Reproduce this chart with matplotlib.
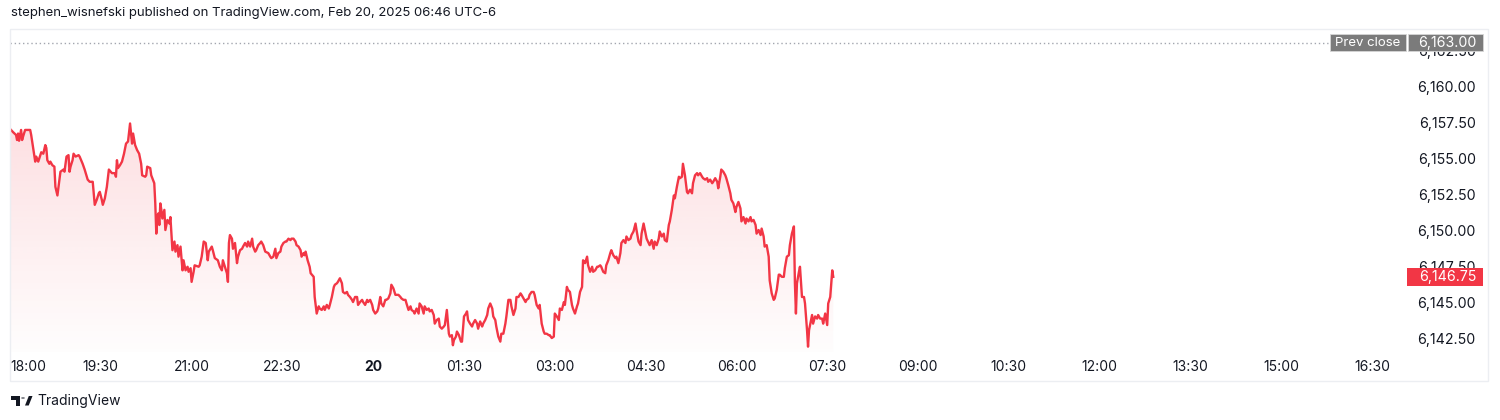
import numpy as np
import matplotlib
matplotlib.use("Agg")
import matplotlib.pyplot as plt
from matplotlib.colors import to_rgb
from matplotlib.patches import Rectangle, Polygon, Circle

# minutes after 18:00 (session open) and last price
minutes = [
    1, 3, 6, 7, 8, 9, 11, 12, 13, 15,
    20, 21, 23, 25, 26, 28, 30, 31, 33, 35,
    36, 37, 39, 40, 42, 44, 45, 47, 49, 50,
    53, 54, 56, 58, 59, 60, 62, 63, 65, 68,
    69, 72, 74, 77, 79, 82, 84, 86, 88, 89,
    91, 92, 94, 96, 98, 101, 104, 105, 106, 107,
    109, 111, 113, 115, 117, 119, 121, 122, 124, 126,
    128, 130, 131, 134, 135, 136, 139, 140, 143, 144,
    145, 146, 147, 148, 149, 150, 151, 153, 154, 156,
    158, 159, 160, 161, 163, 164, 166, 167, 169, 171,
    172, 174, 176, 177, 179, 180, 182, 183, 187, 188,
    190, 192, 194, 196, 197, 200, 201, 203, 206, 208,
    210, 211, 213, 215, 216, 217, 218, 220, 221, 223,
    225, 226, 228, 230, 231, 233, 235, 236, 238, 240,
    241, 243, 244, 246, 248, 249, 251, 253, 256, 258,
    259, 261, 263, 264, 266, 268, 269, 271, 273, 274,
    276, 278, 279, 281, 283, 284, 286, 288, 289, 291,
    292, 293, 295, 297, 298, 301, 302, 304, 306, 307,
    309, 311, 312, 314, 316, 317, 319, 321, 322, 324,
    325, 327, 329, 330, 332, 334, 335, 337, 339, 340,
    342, 344, 345, 347, 349, 350, 352, 354, 355, 357,
    359, 360, 362, 364, 365, 367, 368, 370, 372, 373,
    375, 377, 378, 380, 382, 383, 385, 387, 388, 390,
    392, 393, 395, 397, 398, 400, 401, 403, 405, 406,
    408, 410, 411, 413, 415, 416, 418, 420, 421, 423,
    425, 426, 428, 430, 431, 433, 435, 436, 438, 439,
    440, 442, 443, 445, 447, 448, 450, 452, 453, 454,
    456, 458, 459, 461, 463, 464, 466, 468, 469, 471,
    473, 474, 476, 478, 479, 481, 482, 484, 486, 487,
    489, 491, 492, 494, 496, 497, 499, 501, 502, 504,
    506, 507, 509, 511, 512, 514, 515, 517, 519, 520,
    522, 524, 525, 527, 529, 530, 532, 534, 535, 537,
    539, 540, 542, 544, 545, 547, 549, 550, 552, 553,
    555, 557, 558, 560, 562, 563, 565, 567, 568, 570,
    572, 573, 575, 577, 578, 580, 582, 583, 585, 586,
    588, 590, 591, 593, 595, 596, 598, 600, 601, 603,
    605, 606, 608, 610, 611, 613, 615, 616, 618, 620,
    621, 623, 625, 626, 628, 629, 631, 633, 634, 636,
    638, 639, 641, 643, 644, 646, 648, 649, 651, 653,
    654, 656, 658, 659, 661, 663, 664, 666, 667, 669,
    671, 672, 674, 676, 677, 679, 681, 682, 684, 686,
    687, 689, 691, 692, 694, 696, 697, 699, 701, 702,
    704, 705, 707, 709, 710, 712, 714, 715, 717, 719,
    720, 722, 724, 725, 727, 729, 730, 732, 734, 735,
    737, 739, 740, 742, 744, 745, 747, 748, 750, 752,
    753, 755, 757, 758, 760, 762, 763, 765, 767, 768,
    770, 772, 773, 775, 777, 778, 779, 780, 782, 783,
    785, 787, 788, 790, 791, 792, 794, 795, 796, 798,
    800, 801, 803, 805, 806, 808, 810, 811, 813, 815, 816,
]
prices = [
    6156.95, 6156.8, 6156.6, 6156.25, 6156.7, 6156.2, 6156.95, 6156.25, 6156.5, 6156.95,
    6156.95, 6156.6, 6155.7, 6154.75, 6155.1, 6154.75, 6155.2, 6155.4, 6155.3, 6155.9,
    6155.7, 6154.85, 6154.6, 6154.75, 6154.5, 6154.4, 6153.0, 6152.4, 6153.5, 6154.05,
    6154.2, 6154.05, 6155.1, 6155.2, 6154.05, 6154.4, 6154.85, 6155.3, 6155.1, 6155.2,
    6155.1, 6154.6, 6154.2, 6153.5, 6153.35, 6153.35, 6151.75, 6152.1, 6152.55, 6152.65,
    6152.1, 6151.75, 6152.2, 6153.0, 6154.2, 6153.95, 6153.95, 6153.7, 6154.85, 6154.3,
    6154.5, 6154.75, 6155.3, 6156.0, 6156.15, 6157.4, 6156.0, 6156.7, 6155.9, 6155.55,
    6155.3, 6154.6, 6153.8, 6153.7, 6153.8, 6154.4, 6154.3, 6153.8, 6153.25, 6151.85,
    6149.75, 6150.9, 6151.15, 6150.35, 6151.85, 6151.4, 6150.8, 6151.4, 6150.0, 6150.7,
    6150.45, 6150.9, 6149.75, 6148.6, 6149.2, 6148.5, 6148.95, 6148.15, 6148.85, 6147.2,
    6147.9, 6147.2, 6147.45, 6147.1, 6147.35, 6146.4, 6147.1, 6147.55, 6147.45, 6147.55,
    6148.15, 6149.2, 6149.1, 6147.9, 6148.5, 6148.85, 6148.6, 6148.05, 6147.9, 6147.45,
    6147.2, 6147.9, 6147.45, 6147.0, 6146.4, 6149.1, 6149.65, 6149.4, 6148.7, 6149.1,
    6147.7, 6148.15, 6148.6, 6148.7, 6148.85, 6149.1, 6148.85, 6149.2, 6148.85, 6149.4,
    6148.85, 6148.5, 6148.6, 6148.95, 6149.1, 6149.2, 6148.95, 6148.5, 6148.4, 6148.15,
    6148.05, 6148.15, 6148.7, 6148.05, 6148.4, 6148.5, 6148.85, 6149.1, 6149.2, 6149.2,
    6149.4, 6149.3, 6149.4, 6149.4, 6149.2, 6148.95, 6148.85, 6148.6, 6148.15, 6148.4,
    6148.25, 6148.5, 6147.9, 6147.45, 6147.0, 6146.75, 6145.35, 6144.2, 6144.7, 6144.55,
    6144.45, 6144.7, 6144.45, 6144.8, 6144.55, 6144.8, 6145.35, 6146.05, 6146.2, 6146.3,
    6146.4, 6146.65, 6146.3, 6145.7, 6145.6, 6145.7, 6145.5, 6145.35, 6145.15, 6145.0,
    6145.35, 6145.35, 6144.8, 6145.0, 6145.15, 6145.0, 6144.8, 6145.15, 6145.0, 6145.15,
    6144.8, 6144.45, 6144.2, 6144.35, 6144.55, 6145.35, 6144.9, 6144.7, 6145.15, 6145.15,
    6145.25, 6145.6, 6146.2, 6145.95, 6145.5, 6145.5, 6145.5, 6145.35, 6145.25, 6145.15,
    6145.15, 6144.9, 6144.45, 6144.7, 6144.45, 6144.35, 6144.2, 6144.55, 6144.2, 6144.9,
    6144.7, 6144.2, 6144.7, 6144.45, 6144.55, 6144.35, 6144.45, 6144.1, 6143.5, 6143.75,
    6143.85, 6143.3, 6143.15, 6143.3, 6143.4, 6144.45, 6142.8, 6142.6, 6142.7, 6142.0,
    6142.35, 6142.6, 6142.95, 6142.7, 6142.25, 6142.25, 6144.0, 6144.2, 6144.35, 6143.75,
    6143.5, 6143.3, 6143.5, 6143.75, 6143.5, 6143.15, 6143.65, 6143.3, 6143.5, 6143.75,
    6144.1, 6144.55, 6144.9, 6144.55, 6144.0, 6143.75, 6143.3, 6142.6, 6142.25, 6142.8,
    6142.8, 6143.5, 6144.0, 6145.15, 6145.15, 6144.7, 6144.1, 6144.55, 6145.35, 6145.35,
    6145.6, 6145.5, 6145.25, 6145.0, 6145.15, 6145.25, 6145.5, 6145.7, 6145.7, 6145.5,
    6144.8, 6144.55, 6144.8, 6143.5, 6142.95, 6142.8, 6142.8, 6142.7, 6142.7, 6142.5,
    6142.6, 6144.2, 6144.0, 6143.75, 6144.55, 6144.45, 6145.0, 6144.8, 6146.05, 6145.85,
    6145.7, 6144.8, 6144.55, 6144.2, 6144.7, 6144.9, 6145.7, 6146.05, 6147.9, 6147.7,
    6148.15, 6147.55, 6147.1, 6147.45, 6147.1, 6147.2, 6147.45, 6147.45, 6147.55, 6147.45,
    6147.1, 6147.0, 6147.55, 6147.9, 6148.4, 6148.6, 6148.25, 6148.05, 6148.15, 6147.7,
    6148.4, 6149.1, 6149.3, 6149.1, 6149.55, 6149.3, 6149.4, 6149.65, 6149.9, 6150.45,
    6150.0, 6149.2, 6148.95, 6149.75, 6150.45, 6150.1, 6149.4, 6149.1, 6148.95, 6149.3,
    6148.7, 6149.2, 6148.95, 6149.4, 6149.9, 6149.55, 6149.75, 6149.3, 6149.2, 6150.35,
    6150.6, 6151.4, 6152.4, 6152.2, 6153.0, 6153.7, 6153.6, 6153.7, 6154.6, 6153.8,
    6152.65, 6152.55, 6152.8, 6152.55, 6153.25, 6153.8, 6153.95, 6153.8, 6153.95, 6153.7,
    6153.6, 6153.5, 6153.6, 6153.35, 6153.5, 6153.25, 6153.35, 6153.6, 6153.35, 6152.9,
    6153.7, 6154.2, 6154.05, 6153.8, 6153.6, 6153.1, 6152.55, 6152.1, 6151.85, 6151.25,
    6151.6, 6151.95, 6151.5, 6150.6, 6150.9, 6150.45, 6150.8, 6150.6, 6150.9, 6150.6,
    6150.7, 6150.35, 6149.75, 6150.0, 6149.65, 6150.1, 6149.55, 6148.85, 6148.95, 6148.15,
    6146.5, 6145.6, 6145.15, 6145.25, 6145.85, 6146.9, 6146.9, 6146.75, 6146.75, 6147.35,
    6148.15, 6148.25, 6148.95, 6149.75, 6150.25, 6146.3, 6144.2, 6146.3, 6147.1, 6147.45,
    6145.35, 6145.35, 6144.9, 6143.05, 6141.9, 6143.05, 6143.75, 6144.1, 6143.5, 6144.0,
    6143.85, 6144.1, 6143.85, 6143.85, 6143.5, 6144.2, 6143.4, 6144.9, 6145.35, 6147.2, 6146.75,
]

prev_close = 6163.00
last_price = 6146.75

time_ticks = list(range(0, 1351, 90))
time_labels = ["18:00", "19:30", "21:00", "22:30", "20", "01:30", "03:00", "04:30",
               "06:00", "07:30", "09:00", "10:30", "12:00", "13:30", "15:00", "16:30"]
price_ticks = [6142.5, 6145.0, 6147.5, 6150.0, 6152.5, 6155.0, 6157.5, 6160.0, 6162.5]

RED = "#f23645"
TEXT = "#131722"
GREY_LABEL = "#7b7b7b"

plt.rcParams['font.family'] = ['Inter', 'DejaVu Sans']

W, H = 1500, 420
fig = plt.figure(figsize=(W / 100, H / 100), dpi=100)
fig.patch.set_facecolor("white")


def fx(px):
    return px / W


def fy(py):
    return 1 - py / H


# chart pane
ax = fig.add_axes([fx(10), fy(352), fx(1405) - fx(10), fy(30) - fy(352)])
x = np.array(minutes, dtype=float)
y = np.array(prices)
ymin, ymax = 6141.53, 6163.89
xmax = 1382.7

# gradient area under the line
poly = np.column_stack([np.r_[x[0], x, x[-1]], np.r_[ymin, y, ymin]])
clip = Polygon(poly, closed=True, facecolor="none", edgecolor="none", transform=ax.transData)
ax.add_patch(clip)
rgba = np.zeros((256, 1, 4))
rgba[..., :3] = to_rgb(RED)
rgba[..., 3] = np.linspace(0.01, 0.16, 256)[:, None]
im = ax.imshow(rgba, extent=[x[0], x[-1], ymin, 6157.5], origin="lower",
               aspect="auto", interpolation="bilinear", zorder=1)
im.set_clip_path(clip)

ax.plot(x, y, color=RED, lw=1.7, solid_joinstyle="round", zorder=3)

# previous close dotted line
ax.axhline(prev_close, xmin=0, xmax=0.945, color="#a3a6af", lw=1, ls=(0, (1, 2)), zorder=2)

ax.set_xlim(0, xmax)
ax.set_ylim(ymin, ymax)
for s in ax.spines.values():
    s.set_visible(False)

ax.set_xticks(time_ticks, time_labels)
ax.tick_params(axis="x", length=0, pad=6, labelsize=10, labelcolor=TEXT)
xl = ax.get_xticklabels()
xl[0].set_horizontalalignment("left")
xl[4].set_fontweight("bold")

ax.yaxis.tick_right()
ax.set_yticks(price_ticks, [f"{v:,.2f}" for v in price_ticks])
ax.tick_params(axis="y", length=0, pad=51, labelsize=10.2, labelcolor=TEXT)
for lbl in ax.get_yticklabels():
    lbl.set_horizontalalignment("right")

# price-scale labels
ytr = ax.get_yaxis_transform()
px_y = (ymax - ymin) / 322.0
ax.add_patch(Rectangle((0.9462, prev_close - 8.5 * px_y), 0.0545, 17 * px_y, transform=ytr,
                       facecolor=GREY_LABEL, edgecolor="#d6d6d6", lw=0.6, clip_on=False, zorder=5))
ax.add_patch(Rectangle((1.0022, prev_close - 8.5 * px_y), 0.0537, 17 * px_y, transform=ytr,
                       facecolor=GREY_LABEL, edgecolor="#d6d6d6", lw=0.6, clip_on=False, zorder=5))
ax.text(0.9735, prev_close, "Prev close", transform=ytr, color="white", fontsize=9.5,
        ha="center", va="center", clip_on=False, zorder=6)
ax.text(1.0509, prev_close, f"{prev_close:,.2f}", transform=ytr, color="white", fontsize=10.2,
        ha="right", va="center", clip_on=False, zorder=6)

ax.add_patch(Rectangle((1.0014, last_price - 9 * px_y), 0.0546, 18 * px_y, transform=ytr,
                       facecolor=RED, edgecolor="none", clip_on=False, zorder=5))
ax.text(1.0509, last_price, f"{last_price:,.2f}", transform=ytr, color="white", fontsize=10.2,
        ha="right", va="center", clip_on=False, zorder=6)

# outer frame
fig.patches.append(Rectangle((fx(10), fy(381)), fx(1488) - fx(10), fy(29) - fy(381),
                             transform=fig.transFigure, fill=False, edgecolor="#eceef2", lw=1))

# header
fig.text(fx(11), fy(13), "stephen_wisnefski published on TradingView.com, Feb 20, 2025 06:46 UTC-6",
         fontsize=9.45, color=TEXT, va="center", ha="left")

# footer logo
logo_t = [(11, 396), (19.5, 396), (19.5, 405.5), (15.5, 405.5), (15.5, 399.5), (11, 399.5)]
logo_v = [(25, 405.5), (28.8, 396), (32.5, 396), (28.7, 405.5)]
for shape in (logo_t, logo_v):
    fig.patches.append(Polygon([(fx(a), fy(b)) for a, b in shape], closed=True,
                               transform=fig.transFigure, facecolor=TEXT, edgecolor="none"))
fig.patches.append(Circle((fx(23), fy(398)), 1.9 / W, transform=fig.transFigure,
                          facecolor=TEXT, edgecolor="none"))
fig.text(fx(37), fy(401), "TradingView", fontsize=10, color=TEXT, va="center", ha="left")

fig.savefig("out.png", dpi=100)
